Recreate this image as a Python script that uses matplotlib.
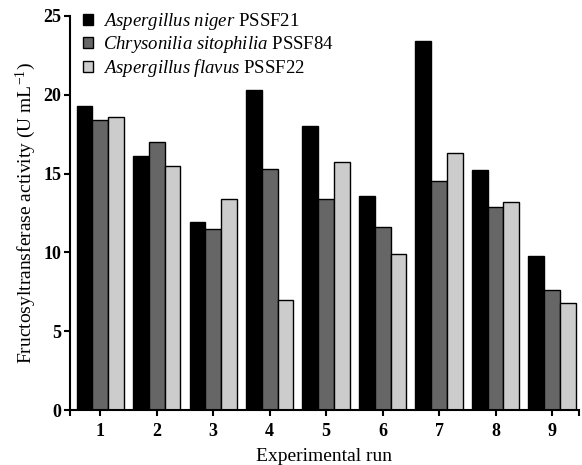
import numpy as np
import matplotlib
matplotlib.use("Agg")
import matplotlib.pyplot as plt
from matplotlib.ticker import FixedLocator

plt.rcParams["font.family"] = ["Liberation Serif", "DejaVu Serif"]
plt.rcParams["mathtext.fontset"] = "custom"
plt.rcParams["mathtext.rm"] = "Liberation Serif"
plt.rcParams["mathtext.it"] = "Liberation Serif:italic"

runs = [1, 2, 3, 4, 5, 6, 7, 8, 9]
niger = [19.3, 16.1, 11.9, 20.3, 18.0, 13.6, 23.4, 15.2, 9.8]
sitophilia = [18.4, 17.0, 11.5, 15.3, 13.4, 11.6, 14.5, 12.9, 7.6]
flavus = [18.6, 15.5, 13.4, 7.0, 15.7, 9.9, 16.3, 13.2, 6.8]
labels = [r"$\it{Aspergillus\ niger}$ PSSF21",
          r"$\it{Chrysonilia\ sitophilia}$ PSSF84",
          r"$\it{Aspergillus\ flavus}$ PSSF22"]
colors = ["#000000", "#666666", "#cccccc"]

fig = plt.figure(figsize=(5.82, 4.65), dpi=100)
ax = fig.add_axes([0.120, 0.118, 0.875, 0.848])

x = np.array(runs, dtype=float)
w = 0.28
for k, (vals, c, lab) in enumerate(zip([niger, sitophilia, flavus], colors, labels)):
    ax.bar(x + (k - 1) * w, vals, width=w, color=c, edgecolor="black", linewidth=1.0, label=lab)

ax.set_xlim(0.46, 9.48)
ax.set_ylim(0, 25)
ax.set_xticks(runs)
ax.set_yticks([0, 5, 10, 15, 20, 25])
ax.xaxis.set_minor_locator(FixedLocator([0.47, 9.47]))
ax.tick_params(axis="both", which="major", direction="out", length=4, width=1.5, labelsize=13, pad=2)
ax.tick_params(axis="x", which="major", pad=5)
ax.tick_params(axis="x", which="minor", direction="out", length=4, width=1.5)
for t in ax.get_xticklabels() + ax.get_yticklabels():
    t.set_fontweight("bold")
for s in ["top", "right"]:
    ax.spines[s].set_visible(False)
for s in ["left", "bottom"]:
    ax.spines[s].set_linewidth(1.5)

ax.set_xlabel("Experimental run", fontsize=14, labelpad=6)
ax.set_ylabel(r"Fructosyltransferase activity (U mL$^{-1}$)", fontsize=14, labelpad=4)

ax.legend(loc="upper left", bbox_to_anchor=(0.0, 1.045), frameon=False, fontsize=13.5,
          handlelength=0.55, handleheight=0.55, handletextpad=0.5, labelspacing=0.1, borderaxespad=0.3)

fig.savefig("out.png", dpi=100)
